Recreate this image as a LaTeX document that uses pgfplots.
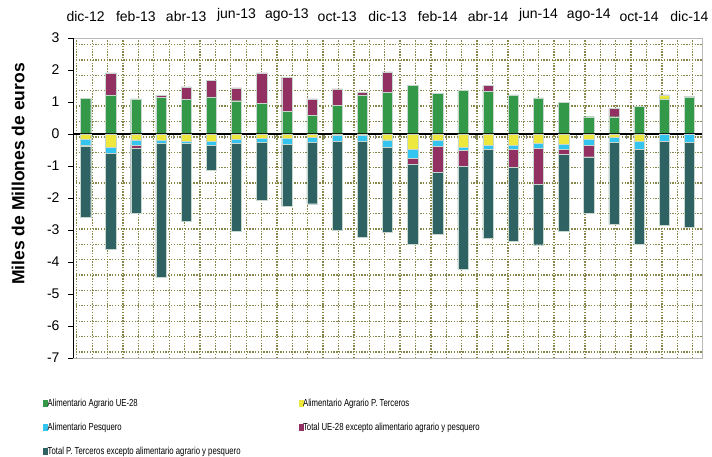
\documentclass[border=0pt]{standalone}
\usepackage{pgfplots}
\pgfplotsset{compat=1.18}
\usepackage{pgfplotstable}
\usepackage{fontspec}
\setmainfont{Liberation Sans}
\newfontfamily\narrowfont[FakeStretch=0.76]{Liberation Sans}

\definecolor{cG}{RGB}{51,153,72}
\definecolor{cY}{RGB}{238,232,62}
\definecolor{cC}{RGB}{51,196,240}
\definecolor{cP}{RGB}{147,48,98}
\definecolor{cT}{RGB}{47,99,99}
\definecolor{gridc}{RGB}{135,135,75}
\definecolor{edge}{RGB}{200,215,205}

\pgfplotstableread{
x  G     Y      C      P      T
0  1.12  -0.16  -0.18  -0.05  -2.21
1  1.22  -0.42  -0.18   0.69  -2.99
2  1.10  -0.18  -0.16  -0.10  -2.03
3  1.15  -0.19  -0.09   0.05  -4.21
4  1.09  -0.23  -0.07   0.38  -2.42
5  1.16  -0.23  -0.12   0.51  -0.77
6  1.04  -0.16  -0.12   0.40  -2.77
7  0.95  -0.12  -0.15   0.96  -1.81
8  0.71  -0.12  -0.21   1.06  -1.93
9  0.59  -0.09  -0.16   0.51  -1.93
10 0.89  -0.03  -0.19   0.52  -2.79
11 1.22  -0.05  -0.18   0.08  -3.00
12 1.31  -0.18  -0.22   0.63  -2.66
13 1.51  -0.49  -0.26  -0.19  -2.51
14 1.27  -0.20  -0.17  -0.82  -1.93
15 1.37  -0.42  -0.10  -0.48  -3.22
16 1.34  -0.35  -0.13   0.17  -2.79
17 1.22  -0.34  -0.13  -0.56  -2.33
18 1.13  -0.29  -0.16  -1.11  -1.90
19 0.99  -0.31  -0.17  -0.15  -2.40
20 0.54  -0.15  -0.21  -0.35  -1.76
21 0.54  -0.09  -0.17   0.26  -2.57
22 0.87  -0.23  -0.26   0.00  -2.94
23 1.10   0.10  -0.24   0.02  -2.61
24 1.15   0.03  -0.26   0.00  -2.66
}\data

\pgfplotsset{base/.style={
  width=629pt, height=320pt, scale only axis,
  xmin=-0.5, xmax=24.5, ymin=-7, ymax=3,
  ybar stacked, bar width=0.41,
  every axis plot/.append style={draw=edge, line width=0.4pt},
}}

\begin{document}
\begin{tikzpicture}
\useasboundingbox (-73pt,-99pt) rectangle (639pt,358pt);
\begin{axis}[base, at={(0pt,0pt)}, anchor=south west,
  axis line style={draw=gray!55},
  xtick={0,2,...,24},
  xticklabels={dic-12,feb-13,abr-13,jun-13,ago-13,oct-13,dic-13,feb-14,abr-14,jun-14,ago-14,oct-14,dic-14},
  xticklabel pos=right, xtick style={draw=none},
  xticklabel style={yshift=8pt},
  yticklabel style={xshift=-5pt},
  ytick={-7,-6,...,3}, ytick pos=left, tick align=outside,
  ytick style={draw=black, line width=0.6pt}, major tick length=5pt,
  minor xtick={-0.35,0.262,...,24.5},
  minor ytick={-6.81,-6.33,...,2.9},
  minor tick length=0pt,
  grid=minor,
  minor grid style={gridc, line width=1.3pt, dash pattern=on 1.3pt off 1.5pt},
  tick label style={font=\fontsize{14}{16}\selectfont},
  /pgf/number format/assume math mode=true,
  ylabel={Miles de Millones de euros},
  ylabel style={font=\bfseries\fontsize{17.5}{20}\selectfont, at={(axis description cs:-0.0874,0.575)}, anchor=center},
  legend columns=2,
  legend cell align=left,
  legend image code/.code={\fill[#1, draw=none] (0pt,-3pt) rectangle (5pt,3.5pt);},
  legend style={at={(0,0)}, anchor=north west, xshift=-30pt, yshift=-39pt,
    draw=none, fill=none, inner sep=0pt,
    font=\narrowfont\fontsize{10.2}{11}\selectfont,
    nodes={inner sep=2pt, text height=7.5pt, text depth=2pt},
    row sep=10.5pt,
    /tikz/every even column/.append style={column sep=56pt},
    /tikz/every odd column/.append style={column sep=-2.5pt}},
]
\addplot[fill=cG] table[x=x, y=G] {\data};
\addlegendentry{Alimentario Agrario UE-28}
\addplot[fill=cY] table[x=x, y expr={max(\thisrow{Y},0)}] {\data};
\addlegendentry{Alimentario Agrario P. Terceros}
\addplot[fill=cC] table[x=x, y expr={max(\thisrow{C},0)}] {\data};
\addlegendentry{Alimentario Pesquero}
\addplot[fill=cP] table[x=x, y expr={max(\thisrow{P},0)}] {\data};
\addlegendentry{Total UE-28 excepto alimentario agrario y pesquero}
\addplot[fill=cT] table[x=x, y expr={max(\thisrow{T},0)}] {\data};
\addlegendentry{Total P. Terceros excepto alimentario agrario y pesquero}
\draw[black, line width=0.8pt] (rel axis cs:0,0) -- (rel axis cs:0,1);
\end{axis}
\begin{axis}[base, at={(0pt,0pt)}, anchor=south west, hide axis]
\addplot[fill=cY] table[x=x, y expr={min(\thisrow{Y},0)}] {\data};
\addplot[fill=cC] table[x=x, y expr={min(\thisrow{C},0)}] {\data};
\addplot[fill=cP] table[x=x, y expr={min(\thisrow{P},0)}] {\data};
\addplot[fill=cT] table[x=x, y expr={min(\thisrow{T},0)}] {\data};
\draw[black, line width=1.2pt] (axis cs:-0.5,0) -- (axis cs:24.5,0);
\pgfplotsinvokeforeach{1.5,3.5,...,23.5}{\draw[gray, line width=0.6pt] (axis cs:#1,0) -- ++(0pt,-5pt);}
\end{axis}
\end{tikzpicture}
\end{document}
